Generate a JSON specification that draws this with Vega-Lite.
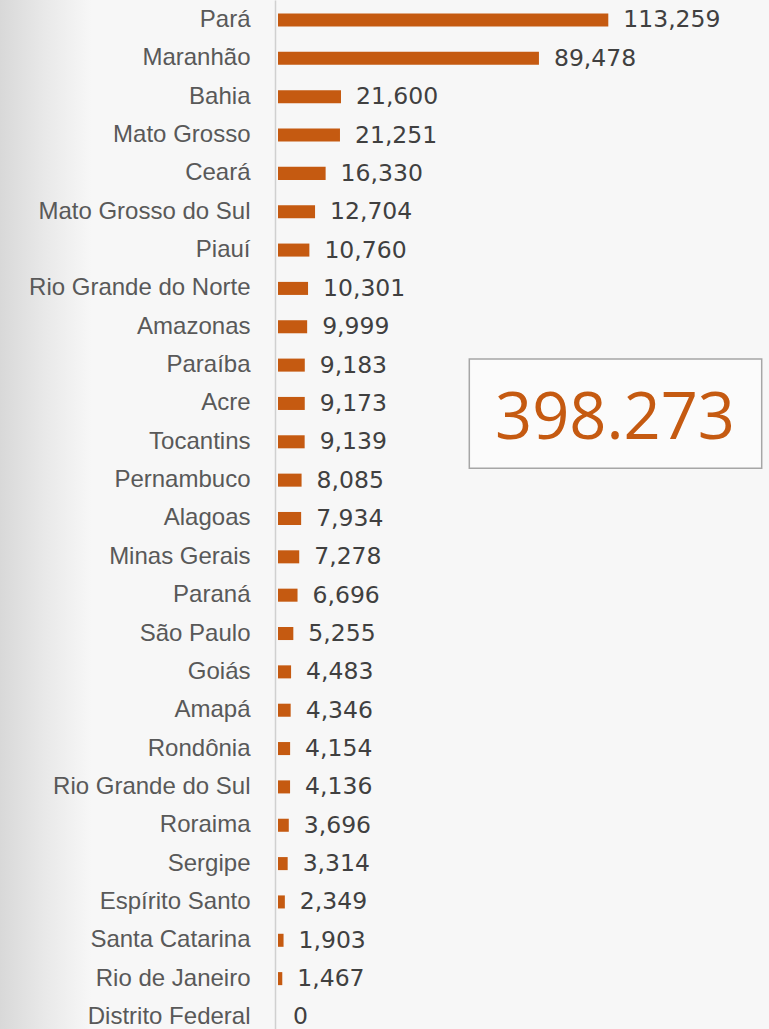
{
  "$schema": "https://vega.github.io/schema/vega-lite/v6.json",
  "autosize": "none",
  "padding": {"left": 278, "top": 0, "right": 160.7, "bottom": 0},
  "width": 330.3,
  "height": 1029,
  "background": "#f7f7f7",
  "config": {"view": {"stroke": null}},
  "datasets": {
    "states": [
      {"estado": "Pará", "valor": 113259},
      {"estado": "Maranhão", "valor": 89478},
      {"estado": "Bahia", "valor": 21600},
      {"estado": "Mato Grosso", "valor": 21251},
      {"estado": "Ceará", "valor": 16330},
      {"estado": "Mato Grosso do Sul", "valor": 12704},
      {"estado": "Piauí", "valor": 10760},
      {"estado": "Rio Grande do Norte", "valor": 10301},
      {"estado": "Amazonas", "valor": 9999},
      {"estado": "Paraíba", "valor": 9183},
      {"estado": "Acre", "valor": 9173},
      {"estado": "Tocantins", "valor": 9139},
      {"estado": "Pernambuco", "valor": 8085},
      {"estado": "Alagoas", "valor": 7934},
      {"estado": "Minas Gerais", "valor": 7278},
      {"estado": "Paraná", "valor": 6696},
      {"estado": "São Paulo", "valor": 5255},
      {"estado": "Goiás", "valor": 4483},
      {"estado": "Amapá", "valor": 4346},
      {"estado": "Rondônia", "valor": 4154},
      {"estado": "Rio Grande do Sul", "valor": 4136},
      {"estado": "Roraima", "valor": 3696},
      {"estado": "Sergipe", "valor": 3314},
      {"estado": "Espírito Santo", "valor": 2349},
      {"estado": "Santa Catarina", "valor": 1903},
      {"estado": "Rio de Janeiro", "valor": 1467},
      {"estado": "Distrito Federal", "valor": 0}
    ],
    "total": [{"rotulo": "398.273"}]
  },
  "layer": [
    {
      "data": {"name": "total"},
      "layer": [
        {
          "mark": {
            "type": "rect",
            "fill": {
              "gradient": "linear",
              "x1": 0, "y1": 0, "x2": 1, "y2": 0,
              "stops": [
                {"offset": 0, "color": "#d8d8d8"},
                {"offset": 0.5, "color": "#e9e9e9"},
                {"offset": 1, "color": "#f7f7f7"}
              ]
            }
          },
          "encoding": {
            "x": {"datum": -95400, "type": "quantitative", "axis": null},
            "x2": {"datum": -64000},
            "y": {"datum": 0, "type": "quantitative", "scale": {"domain": [0, 26.835], "reverse": true, "nice": false, "zero": false}, "axis": null},
            "y2": {"datum": 26.835}
          }
        },
        {
          "mark": {"type": "rect", "fill": "#fbfbfb", "stroke": "#a6a6a6", "strokeWidth": 1.5},
          "encoding": {
            "x": {"datum": 65600, "type": "quantitative", "axis": null},
            "x2": {"datum": 165860},
            "y": {"datum": 9.362, "type": "quantitative", "axis": null},
            "y2": {"datum": 12.213}
          }
        },
        {
          "mark": {"type": "text", "font": "Open Sans", "fontSize": 65, "color": "#C55A11", "align": "center", "baseline": "alphabetic"},
          "encoding": {
            "text": {"field": "rotulo", "type": "nominal"},
            "x": {"datum": 115556, "type": "quantitative", "axis": null},
            "y": {"datum": 11.456, "type": "quantitative", "axis": null}
          }
        }
      ]
    },
    {
      "data": {"name": "states"},
      "encoding": {
        "y": {
          "field": "estado", "type": "nominal", "sort": null,
          "scale": {"paddingInner": 0.66, "paddingOuter": 0.2475, "align": 0.71},
          "axis": {
            "title": null, "ticks": false, "offset": 3, "labelPadding": 25,
            "labelFont": "Liberation Sans", "labelFontSize": 24, "labelColor": "#595959",
            "domainColor": "#d0d0d0", "domainWidth": 1.5, "zindex": 1, "labelLimit": 400
          }
        },
        "x": {
          "field": "valor", "type": "quantitative",
          "scale": {"domain": [0, 113259], "nice": false, "zero": true},
          "axis": null
        }
      },
      "layer": [
        {"mark": {"type": "bar", "color": "#C55A11"}},
        {
          "mark": {"type": "text", "align": "left", "baseline": "middle", "dx": 15, "dy": 0.5, "font": "DejaVu Sans", "fontSize": 23.5, "color": "#404040"},
          "encoding": {"text": {"field": "valor", "type": "quantitative", "format": ","}}
        }
      ]
    }
  ],
  "resolve": {"scale": {"y": "independent"}}
}
